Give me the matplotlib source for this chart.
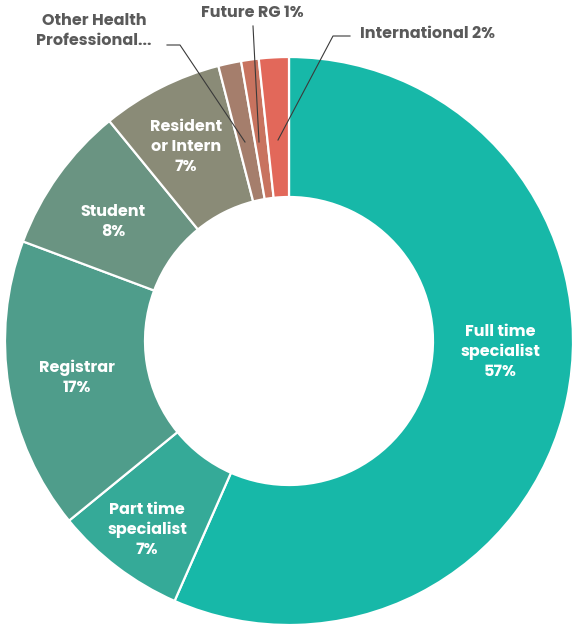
import matplotlib
matplotlib.use("Agg")
import matplotlib.pyplot as plt

categories = ["Full time specialist", "Part time specialist", "Registrar", "Student",
              "Resident or Intern", "Other Health Professional", "Future RG", "International"]
values = [56.6, 7.5, 16.6, 8.4, 6.9, 1.3, 1.0, 1.7]
inner_labels = ["Full time\nspecialist\n57%", "Part time\nspecialist\n7%", "Registrar\n17%",
                "Student\n8%", "Resident\nor Intern\n7%", None, None, None]
outer_labels = [None, None, None, None, None, "Other Health\nProfessional...", "Future RG 1%", "International 2%"]
colors = ["#17B8A8", "#35AA98", "#4F9D8B", "#6A9482", "#8A8B77", "#A57E6C", "#C8735F", "#E2685A"]

W, H = 575, 628
fig = plt.figure(figsize=(W / 100, H / 100), dpi=100)
ax = fig.add_axes([0, 0, 1, 1])
ax.set_xlim(0, W)
ax.set_ylim(0, H)
ax.set_aspect("equal")
ax.axis("off")

def py(y):
    return H - y

cx, cy, R, r_in = 289, py(341), 284, 144

wedges, _ = ax.pie(values, colors=colors, startangle=90, counterclock=False,
                   center=(cx, cy), radius=R,
                   wedgeprops=dict(width=R - r_in, edgecolor="white", linewidth=1.6))
ax.set_xlim(0, W)
ax.set_ylim(0, H)

font = ["Poppins", "Open Sans", "DejaVu Sans"]
fs = 11.5
inner_pos = [(500, 352), (147, 530), (77, 378), (113, 222), (186, 147)]
for lab, (x, y) in zip(inner_labels, inner_pos):
    ax.text(x, py(y), lab, ha="center", va="center", color="white", fontsize=fs,
            fontweight="bold", family=font, linespacing=1.3)

lc = "#3a3a3a"
tc = "#5a5a5a"
# Other Health Professional
ax.text(94, py(31), outer_labels[5], ha="center", va="center", color=tc, fontsize=fs,
        fontweight="bold", family=font, linespacing=1.3)
ax.plot([167, 180, 245], [py(45), py(45), py(142)], color=lc, lw=0.8)
# Future RG
ax.text(252, py(13), outer_labels[6], ha="center", va="center", color=tc, fontsize=fs,
        fontweight="bold", family=font)
ax.plot([253, 259], [py(26), py(142)], color=lc, lw=0.8)
# International
ax.text(360, py(34), outer_labels[7], ha="left", va="center", color=tc, fontsize=fs,
        fontweight="bold", family=font)
ax.plot([350, 333, 278], [py(36), py(36), py(140)], color=lc, lw=0.8)

fig.savefig("out.png", dpi=100, facecolor="white")
